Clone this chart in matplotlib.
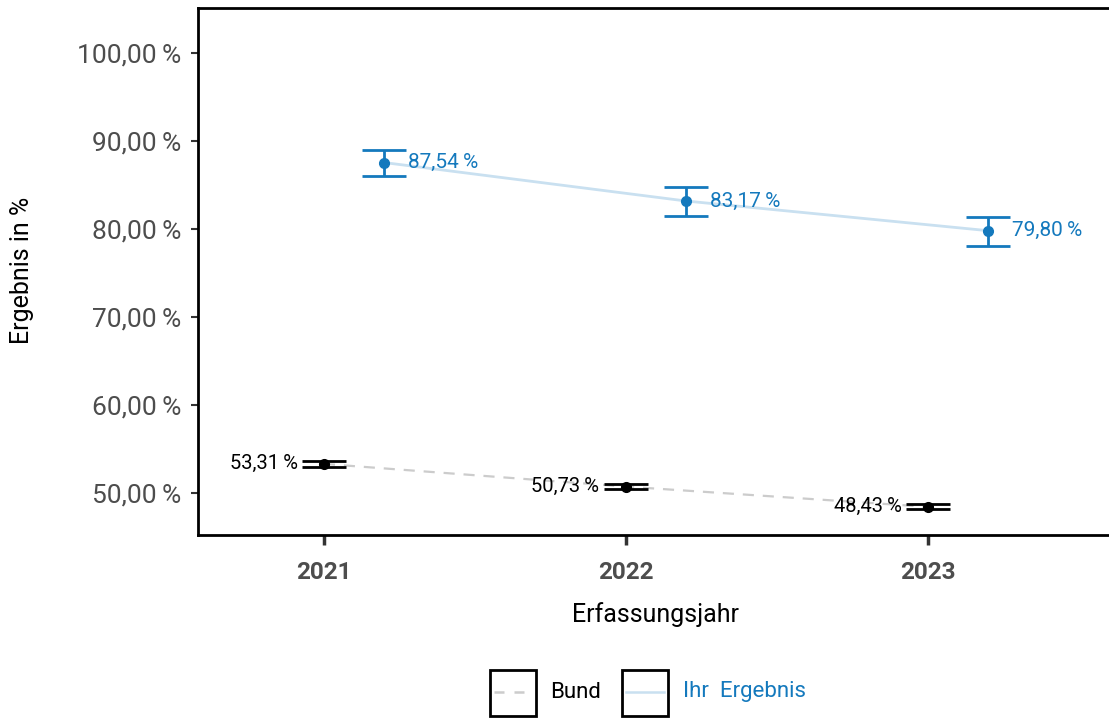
import matplotlib.pyplot as plt
from matplotlib.lines import Line2D
from matplotlib.patches import Rectangle

plt.rcParams['font.family'] = ['Roboto', 'DejaVu Sans']

years = [2021, 2022, 2023]

bund = [53.31, 50.73, 48.43]
bund_lo = [53.0, 50.45, 48.15]
bund_hi = [53.6, 51.0, 48.7]

ihr = [87.54, 83.17, 79.80]
ihr_lo = [86.0, 81.5, 78.1]
ihr_hi = [89.0, 84.8, 81.4]

y_ticks = [50, 60, 70, 80, 90, 100]

BLUE = '#1479bd'
LIGHT_BLUE = '#c9e0f0'
GREY = '#cccccc'


def fmt(v):
    return f"{v:.2f}".replace('.', ',') + '\u2009%'


fig = plt.figure(figsize=(11.09, 7.20), dpi=100)
ax = fig.add_axes([198 / 1109, 1 - 535 / 720, 1 - 198 / 1109, 527 / 720])

offset = 0.2
ihr_x = [y + offset for y in years]

# Bund
ax.plot(years, bund, color=GREY, linestyle=(0, (5, 4)), linewidth=1.6, zorder=1)
ax.errorbar(years, bund,
            yerr=[[b - l for b, l in zip(bund, bund_lo)],
                  [h - b for b, h in zip(bund, bund_hi)]],
            fmt='o', color='black', markersize=7, elinewidth=2,
            capsize=16, capthick=2, zorder=3)
for x, v in zip(years, bund):
    ax.annotate(fmt(v), (x, v), xytext=(-19, 0), textcoords='offset points',
                ha='right', va='center', fontsize=14.5, color='black')

# Ihr Ergebnis
ax.plot(ihr_x, ihr, color=LIGHT_BLUE, linewidth=2, zorder=1)
ax.errorbar(ihr_x, ihr,
            yerr=[[v - l for v, l in zip(ihr, ihr_lo)],
                  [h - v for v, h in zip(ihr, ihr_hi)]],
            fmt='o', color=BLUE, markersize=7, elinewidth=2,
            capsize=16, capthick=2, zorder=3)
for x, v in zip(ihr_x, ihr):
    ax.annotate(fmt(v), (x, v), xytext=(17, 0), textcoords='offset points',
                ha='left', va='center', fontsize=15, color=BLUE)

ax.set_xlim(2020.583, 2023.6)
ax.set_ylim(45.23, 105.1)
ax.set_xticks(years)
ax.set_xticklabels([str(y) for y in years], fontsize=17.5, fontweight='bold', color='#4d4d4d')
ax.set_yticks(y_ticks)
ax.set_yticklabels([fmt(t) for t in y_ticks], fontsize=19, color='#4d4d4d')
ax.tick_params(axis='x', length=7, width=2.5, color='#333333', pad=12)
ax.tick_params(axis='y', length=5, width=1.5, color='#333333', pad=7)

for side in ['left', 'top', 'bottom']:
    ax.spines[side].set_linewidth(2)
    ax.spines[side].set_color('black')
ax.spines['right'].set_visible(False)

ax.set_xlabel('Erfassungsjahr', fontsize=18)
ax.set_ylabel('Ergebnis in %', fontsize=18)
ax.xaxis.set_label_coords((656 - 198) / 911, (535 - 615) / 527)
ax.yaxis.set_label_coords((22 - 198) / 911, (535 - 270) / 527)
ax.xaxis.label.set_va('center')
ax.yaxis.label.set_va('center')

# legend drawn by hand, ggplot style boxed keys
H = 720.0
W = 1109.0
key_w, key_h = 46 / W, 46 / H
key_y = 1 - 716 / H
for kx, style, col, label, tcol, tx in [
        (490, (0, (4, 4)), GREY, 'Bund', 'black', 550),
        (622, '-', LIGHT_BLUE, 'Ihr  Ergebnis', BLUE, 683)]:
    fig.patches.append(Rectangle((kx / W, key_y), key_w, key_h, fill=False,
                                 edgecolor='black', linewidth=2,
                                 transform=fig.transFigure))
    fig.lines.append(Line2D([(kx + 4) / W, (kx + 42) / W], [1 - 692 / H] * 2,
                            color=col, linestyle=style, linewidth=1.8,
                            transform=fig.transFigure))
    fig.text(tx / W, 1 - 692 / H, label, color=tcol, fontsize=16, va='center', ha='left')

fig.savefig('out.png', dpi=100)
